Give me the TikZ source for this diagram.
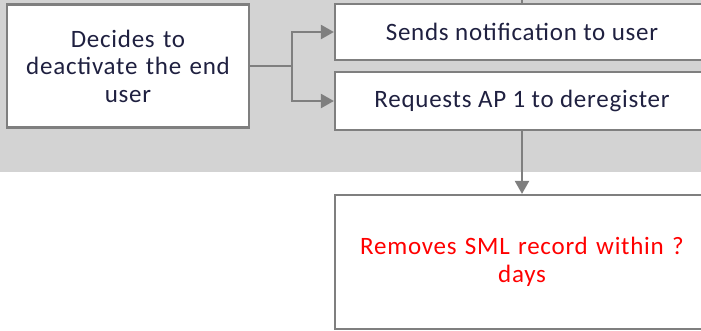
\documentclass[tikz,border=0pt]{standalone}
\usepackage{fontspec}
\setmainfont{Carlito}[LetterSpace=3]
\usetikzlibrary{arrows.meta}
\definecolor{panelgray}{HTML}{D3D3D3}
\definecolor{edgegray}{HTML}{7F7F7F}
\definecolor{inkblue}{HTML}{1F2040}
\tikzset{
  stepbox/.style={draw=edgegray, line width=2.2pt, fill=white, align=center,
    inner sep=0pt, font=\fontsize{25}{27.5}\selectfont, text=inkblue},
  link/.style={draw=edgegray, line width=2.2pt},
  flow/.style={link, -{Triangle[length=13pt,width=14pt]}},
}
\begin{document}
\begin{tikzpicture}[x=1pt,y=-1pt]
\useasboundingbox (0,0) rectangle (701,330);
\clip (0,0) rectangle (701,330);
% shaded swimlane
\fill[panelgray] (0,0) rectangle (701,172);
% boxes
\node[stepbox, minimum width=242pt, minimum height=123pt, text width=236pt] (decide) at (128,66)
  {Decides to\\deactivate the end\\user};
\node[stepbox, minimum width=374pt, minimum height=56pt] (notify) at (522,32)
  {Sends notification to user};
\node[stepbox, minimum width=374pt, minimum height=58pt] (request) at (522,101)
  {Requests AP 1 to deregister};
\node[stepbox, minimum width=374pt, minimum height=134pt, text=red, text width=350pt] (remove) at (522,262)
  {Removes SML record within ?\\days};
% connectors
\coordinate (incoming) at (522,-10);
\draw[link] (incoming) -- (notify.north);
\coordinate (split) at (292,66);
\draw[link] (decide.east) -- (split);
\draw[flow] (split) |- (notify.west);
\draw[flow] (split) |- (request.west);
\draw[flow] (request.south) -- (remove.north);
\end{tikzpicture}
\end{document}
